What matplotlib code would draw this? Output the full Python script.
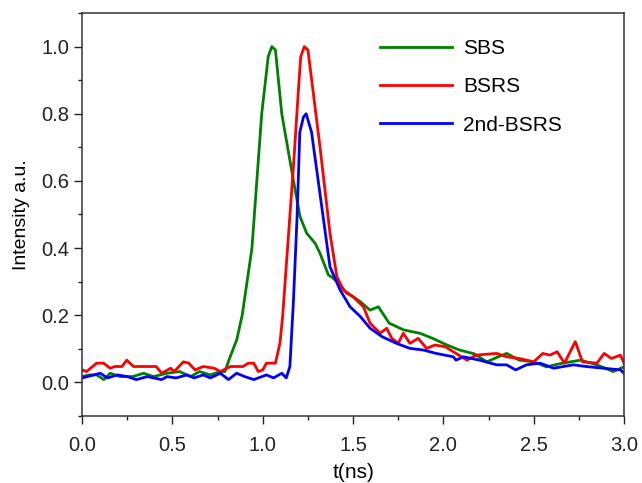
import numpy as np
import matplotlib
matplotlib.use("Agg")
import matplotlib.pyplot as plt
from matplotlib.ticker import MultipleLocator

plt.rcParams['font.family'] = ['Liberation Sans', 'DejaVu Sans']

# SBS (green)
t_sbs = [0.0, 0.04, 0.08, 0.12, 0.155, 0.21, 0.28, 0.34, 0.395, 0.47, 0.54, 0.60, 0.65,
         0.71, 0.765, 0.79, 0.82, 0.856, 0.886, 0.94, 0.967, 0.994, 1.03, 1.05, 1.07,
         1.105, 1.17, 1.206, 1.243, 1.29, 1.317, 1.363, 1.39, 1.428, 1.465, 1.50, 1.54,
         1.594, 1.64, 1.70, 1.78, 1.87, 1.94, 2.02, 2.09, 2.17, 2.24, 2.30, 2.35, 2.42,
         2.50, 2.57, 2.65, 2.76, 2.85, 2.94, 3.0]
i_sbs = [0.017, 0.022, 0.022, 0.008, 0.027, 0.017, 0.017, 0.027, 0.017, 0.027, 0.032, 0.017, 0.032,
         0.022, 0.032, 0.032, 0.077, 0.127, 0.20, 0.40, 0.60, 0.80, 0.97, 1.0, 0.99,
         0.80, 0.60, 0.494, 0.444, 0.414, 0.384, 0.32, 0.31, 0.29, 0.265, 0.255, 0.24,
         0.215, 0.225, 0.176, 0.156, 0.146, 0.131, 0.111, 0.096, 0.085, 0.061, 0.075, 0.086, 0.066,
         0.061, 0.046, 0.056, 0.066, 0.052, 0.032, 0.046]

# BSRS (red)
t_bsrs = [0.0, 0.024, 0.08, 0.118, 0.155, 0.18, 0.22, 0.247, 0.284, 0.41, 0.44, 0.49,
          0.51, 0.56, 0.59, 0.625, 0.67, 0.73, 0.765, 0.82, 0.89, 0.92, 0.95, 0.975,
          1.0, 1.02, 1.07, 1.095, 1.11, 1.13, 1.15, 1.17, 1.20, 1.21, 1.23, 1.25,
          1.317, 1.372, 1.41, 1.446, 1.50, 1.557, 1.594, 1.65, 1.686, 1.714, 1.75, 1.778,
          1.815, 1.86, 1.907, 1.953, 2.01, 2.07, 2.13, 2.18, 2.295, 2.35, 2.42, 2.50,
          2.55, 2.59, 2.63, 2.67, 2.73, 2.77, 2.85, 2.89, 2.93, 2.98, 3.0]
i_bsrs = [0.037, 0.032, 0.057, 0.057, 0.042, 0.047, 0.047, 0.066, 0.047, 0.047, 0.027, 0.042,
          0.032, 0.061, 0.057, 0.037, 0.047, 0.042, 0.032, 0.047, 0.047, 0.057, 0.057, 0.032,
          0.037, 0.057, 0.057, 0.117, 0.197, 0.347, 0.496, 0.645, 0.894, 0.97, 1.0, 0.99,
          0.70, 0.444, 0.315, 0.275, 0.255, 0.225, 0.176, 0.146, 0.161, 0.131, 0.116, 0.146,
          0.116, 0.131, 0.101, 0.111, 0.106, 0.086, 0.066, 0.081, 0.086, 0.076, 0.071, 0.061,
          0.086, 0.081, 0.091, 0.057, 0.121, 0.061, 0.057, 0.086, 0.071, 0.081, 0.057]

# 2nd-BSRS (blue)
t_2nd = [0.0, 0.1, 0.14, 0.195, 0.25, 0.30, 0.36, 0.44, 0.47, 0.52, 0.58, 0.62, 0.67,
         0.71, 0.765, 0.81, 0.855, 0.90, 0.95, 1.02, 1.06, 1.105, 1.13, 1.15, 1.17,
         1.19, 1.205, 1.225, 1.24, 1.27, 1.317, 1.372, 1.428, 1.483, 1.54, 1.594, 1.66,
         1.74, 1.815, 1.89, 1.96, 2.055, 2.07, 2.11, 2.20, 2.295, 2.35, 2.40, 2.46,
         2.535, 2.61, 2.72, 2.79, 2.885, 2.98, 3.0]
i_2nd = [0.013, 0.027, 0.013, 0.022, 0.017, 0.008, 0.017, 0.008, 0.017, 0.013, 0.022, 0.013, 0.022,
         0.013, 0.027, 0.008, 0.027, 0.017, 0.008, 0.022, 0.013, 0.027, 0.013, 0.047, 0.246,
         0.496, 0.745, 0.79, 0.80, 0.745, 0.56, 0.344, 0.275, 0.225, 0.196, 0.161, 0.136,
         0.116, 0.101, 0.096, 0.086, 0.076, 0.066, 0.076, 0.066, 0.052, 0.052, 0.037, 0.052,
         0.057, 0.042, 0.052, 0.047, 0.042, 0.037, 0.027]

fig = plt.figure(figsize=(6.42, 4.83), dpi=100)
ax = fig.add_axes([0.128, 0.139, 0.844, 0.834])

ax.plot(t_sbs, i_sbs, color='#008000', lw=2.0, label='SBS')
ax.plot(t_bsrs, i_bsrs, color='#ff0000', lw=2.0, label='BSRS')
ax.plot(t_2nd, i_2nd, color='#0000ff', lw=2.0, label='2nd-BSRS')

ax.set_xlim(0, 3.0)
ax.set_ylim(-0.1, 1.1)
ax.xaxis.set_major_locator(MultipleLocator(0.5))
ax.xaxis.set_minor_locator(MultipleLocator(0.25))
ax.yaxis.set_minor_locator(MultipleLocator(0.1))
ax.set_yticks([0.0, 0.2, 0.4, 0.6, 0.8, 1.0])
ax.tick_params(which='major', direction='out', length=5.8, width=1, labelsize=14.5,
               colors='#222222')
ax.tick_params(which='minor', direction='out', length=3, width=1, colors='#222222')
ax.tick_params(axis='x', which='major', pad=8.5)
ax.tick_params(axis='y', which='major', pad=3.3)
ax.tick_params(top=False, right=False, which='both')
for s in ax.spines.values():
    s.set_linewidth(1.1)
    s.set_color('#333333')

ax.set_xlabel('t(ns)', fontsize=15, labelpad=6)
ax.set_ylabel('Intensity a.u.', fontsize=14, labelpad=8)

ax.legend(loc='upper left', frameon=False, fontsize=15, handlelength=3.46,
          handletextpad=0.53, labelspacing=0.93, borderpad=0, borderaxespad=0,
          bbox_to_anchor=(0.55, 0.936))

fig.savefig('out.png', dpi=100)
